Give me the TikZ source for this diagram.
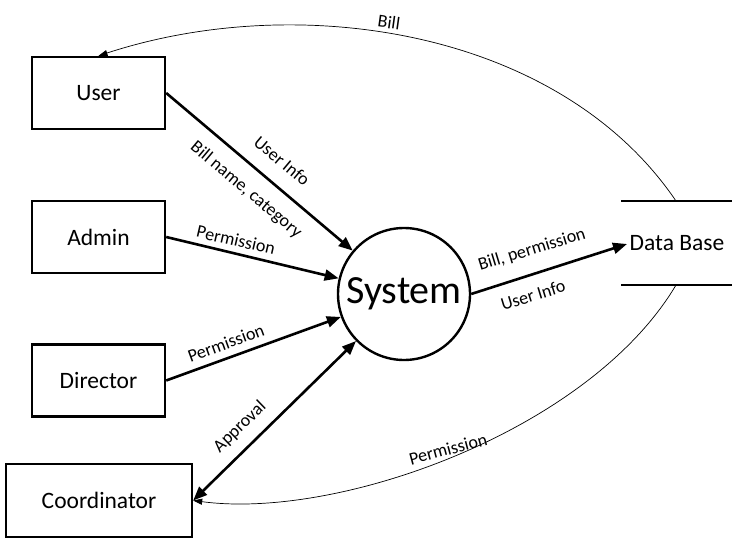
\documentclass[tikz,border=0pt]{standalone}
\usepackage{fontspec}
\setmainfont{Carlito}
\usetikzlibrary{arrows.meta}
\tikzset{
  entity/.style={draw, line width=2.4pt, minimum width=133pt, minimum height=72pt, inner sep=0pt, font=\fontsize{23.5}{26}\selectfont},
  proc/.style={draw, circle, line width=2.4pt, minimum size=132pt, inner sep=0pt, font=\fontsize{40}{44}\selectfont},
  flow/.style={line width=2.6pt, -{Triangle[length=14pt,width=11pt]}},
  thinflow/.style={line width=0.7pt, -{Triangle[length=9pt,width=6pt]}},
  lbl/.style={font=\fontsize{18}{20}\selectfont, inner sep=0pt},
  store/.style={line width=2.6pt}
}
\begin{document}
\begin{tikzpicture}[x=1pt,y=-1pt]
\useasboundingbox (0,0) rectangle (738,545);
% entities
\node[entity] (user) at (98.5,93) {User};
\node[entity] (admin) at (98.5,237) {Admin};
\node[entity] (director) at (98.5,380.5) {Director};
\node[entity, minimum width=186pt, minimum height=73pt] (coord) at (99,500.5) {Coordinator};
% process
\node[proc] (sys) at (404,294) {System};
% data store
\node[font=\fontsize{23.5}{26}\selectfont, inner sep=0pt] (db) at (677,243) {Data Base};
\coordinate (dbtl) at (621,201);
\coordinate (dbtr) at (732,201);
\coordinate (dbbl) at (621,285);
\coordinate (dbbr) at (732,285);
\coordinate (dbtop) at (676,201);
\coordinate (dbbot) at (676,285);
\coordinate (dbin) at (627,244);
\draw[store] (dbtl) -- (dbtr);
\draw[store] (dbbl) -- (dbbr);
% flows
\draw[flow] (user.east) -- (sys);
\draw[flow] (admin.east) -- (sys);
\draw[flow] (director.east) -- (sys);
\draw[line width=2.6pt, {Triangle[length=14pt,width=11pt]}-{Triangle[length=14pt,width=11pt]}] (coord.east) -- (sys);
\draw[flow] (sys.east) -- (dbin);
\draw[thinflow] (dbtop) .. controls (560,30) and (300,-10) .. (user.north);
\draw[thinflow] (dbbot) .. controls (590,430) and (340,520) .. (coord.east);
% labels
\node[lbl, rotate=-40] (l1) at (282,161) {User Info};
\node[lbl, rotate=-40] (l2) at (246,190) {Bill name, category};
\node[lbl, rotate=-13] (l3) at (236,240) {Permission};
\node[lbl, rotate=20] (l4) at (226,343) {Permission};
\node[lbl, rotate=44] (l5) at (240,427) {Approval};
\node[lbl, rotate=17] (l6) at (532,250) {Bill, permission};
\node[lbl, rotate=17] (l7) at (533,295) {User Info};
\node[lbl, rotate=-8] (l8) at (389,22) {Bill};
\node[lbl, rotate=15] (l9) at (448,449) {Permission};
\end{tikzpicture}
\end{document}
